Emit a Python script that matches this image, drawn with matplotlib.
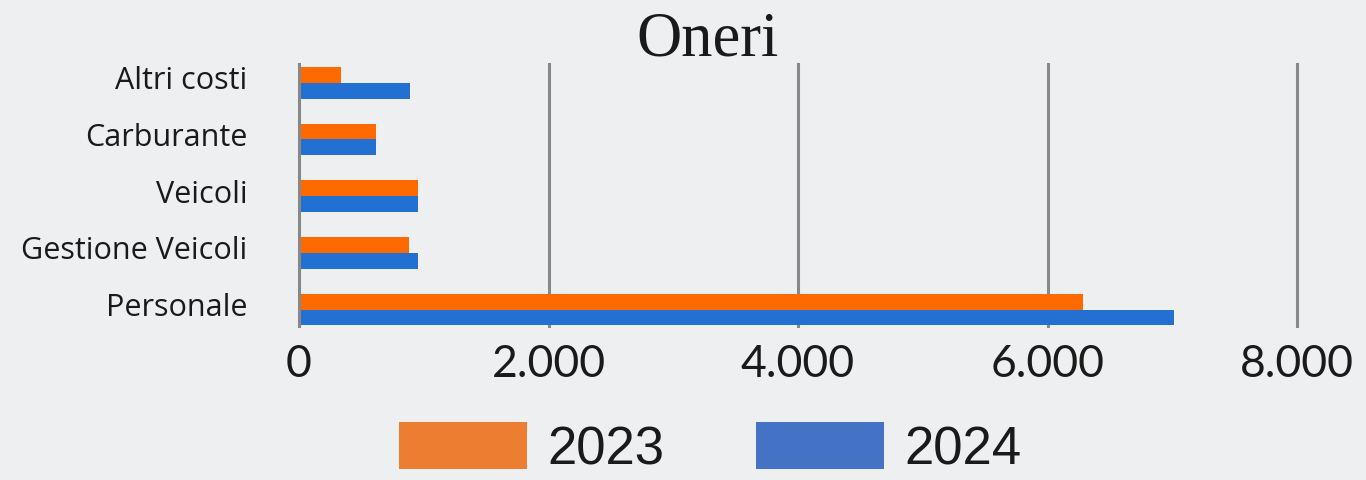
import matplotlib
matplotlib.use("Agg")
import matplotlib.pyplot as plt
import matplotlib.transforms as mtransforms
from matplotlib.patches import Patch
from matplotlib.ticker import FuncFormatter

categories = ["Personale", "Gestione Veicoli", "Veicoli", "Carburante", "Altri costi"]
values_2023 = [6287, 884, 954, 617, 334]
values_2024 = [7014, 954, 954, 617, 890]
series_labels = ["2023", "2024"]
xticks = [0, 2000, 4000, 6000, 8000]
title = "Oneri"

bar_orange = "#ff6a00"
bar_blue = "#2170d2"
leg_orange = "#ed7d31"
leg_blue = "#4472c4"
bg = "#eeeff1"
grid_c = "#888888"
text_c = "#1a1a1a"

fig = plt.figure(figsize=(13.66, 4.81), dpi=100, facecolor=bg)
ax = fig.add_axes([299/1366, 1-327/481, (1297-299)/1366, (327-65)/481])
ax.set_facecolor("none")

h = 0.28
ys = list(range(len(categories)))
ax.barh([y + h/2 for y in ys], values_2023, height=h, color=bar_orange, zorder=3)
ax.barh([y - h/2 for y in ys], values_2024, height=h, color=bar_blue, zorder=3)

ax.set_xlim(0, 8000)
ax.set_ylim(-0.29, 4.33)
ax.set_xticks(xticks)
ax.xaxis.set_major_formatter(FuncFormatter(lambda v, p: f"{int(v):,}".replace(",", ".")))
ax.set_yticks(ys)
ax.set_yticklabels(categories)

for sp in ["top", "right", "bottom"]:
    ax.spines[sp].set_visible(False)
ax.spines["left"].set_color(grid_c)
ax.spines["left"].set_linewidth(2.2)
ax.spines["left"].set_zorder(4)

for xv in xticks[1:]:
    ax.axvline(xv, color=grid_c, linewidth=2.2, zorder=1, clip_on=False)

ax.tick_params(axis="both", length=0)
ax.tick_params(axis="x", pad=12, labelsize=32, labelcolor=text_c)
ax.tick_params(axis="y", pad=37, labelsize=22, labelcolor=text_c)
for lab in ax.get_xticklabels():
    lab.set_fontfamily(["Lato", "DejaVu Sans"])
off = mtransforms.ScaledTranslation(0, 6/100, fig.dpi_scale_trans)
for lab in ax.get_yticklabels():
    lab.set_fontfamily(["Open Sans", "DejaVu Sans"])
    lab.set_transform(lab.get_transform() + off)

fig.text(708/1366, 1-55/481, title, ha="center", va="baseline",
         fontsize=45, family=["Liberation Serif", "DejaVu Serif"], color=text_c)

handles = [Patch(facecolor=leg_orange, edgecolor="none"),
           Patch(facecolor=leg_blue, edgecolor="none")]
fs = 38
em = fs * 100 / 72
fig.legend(handles, series_labels, loc="center", bbox_to_anchor=(710/1366, 1-449/481),
           ncol=2, frameon=False, borderpad=0, handlelength=128/em,
           handleheight=53/em, handletextpad=20/em, columnspacing=92/em,
           prop={"family": ["Liberation Sans", "DejaVu Sans"], "size": fs},
           labelcolor=text_c)

fig.savefig("out.png", dpi=100, facecolor=bg)
